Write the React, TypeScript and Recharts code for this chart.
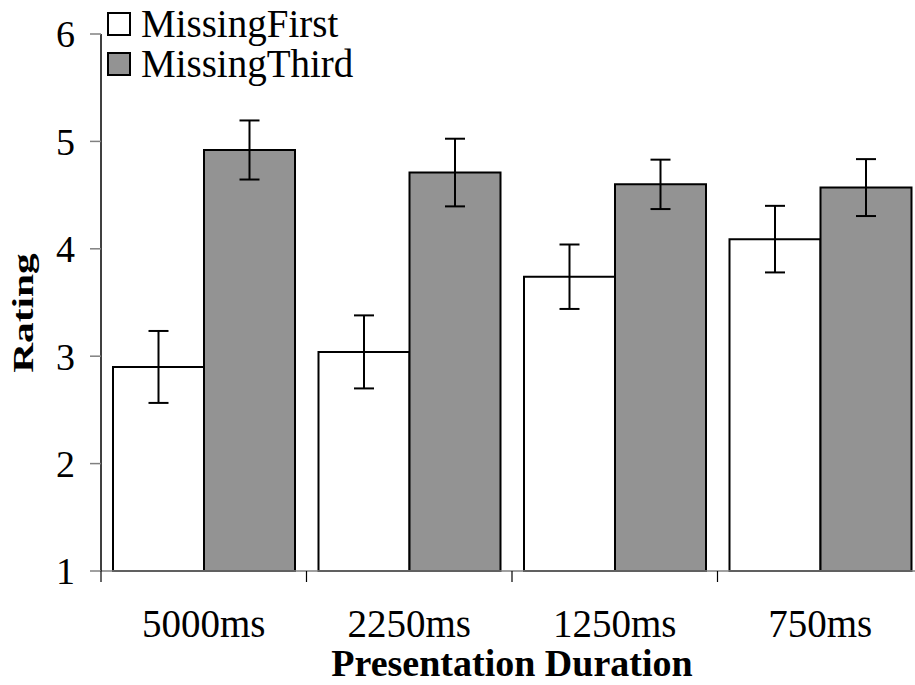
import React from 'react';
import { BarChart, Bar, XAxis, YAxis, ErrorBar, Legend } from 'recharts';

const categories = ['5000ms', '2250ms', '1250ms', '750ms'];
const missingFirst = [2.9, 3.04, 3.74, 4.09];
const missingFirstErr = [0.335, 0.34, 0.3, 0.31];
const missingThird = [4.92, 4.71, 4.6, 4.57];
const missingThirdErr = [0.275, 0.315, 0.23, 0.265];
const yTicks = [1, 2, 3, 4, 5, 6];

const data = categories.map((name, i) => ({
  name,
  first: missingFirst[i],
  firstErr: missingFirstErr[i],
  third: missingThird[i],
  thirdErr: missingThirdErr[i],
}));

const FONT = "'Liberation Serif', 'Times New Roman', Times, serif";
const GREY = '#939393';
const CHART_W = 935;
const PLOT_LEFT = 101;
const PLOT_RIGHT = 923;
const BAND = (PLOT_RIGHT - PLOT_LEFT) / categories.length;

// category label + a small tick at the left edge of each category
const CategoryTick = (props: any) => {
  const { x, y, payload } = props;
  const edge = x - BAND / 2;
  return (
    <g>
      <line x1={edge} x2={edge} y1={y} y2={y + 11} stroke="#000" strokeWidth={1.2} />
      <text x={x} y={y + 66} textAnchor="middle" fill="#000" fontSize={39} style={{ fontFamily: FONT }}>
        {payload.value}
      </text>
    </g>
  );
};

const renderLegend = () => {
  const items = [
    { label: 'MissingFirst', fill: '#fff' },
    { label: 'MissingThird', fill: GREY },
  ];
  return (
    <div style={{ fontFamily: FONT }}>
      {items.map((it) => (
        <div key={it.label} style={{ display: 'flex', alignItems: 'center', height: 40 }}>
          <span
            style={{
              display: 'inline-block',
              width: 20,
              height: 20,
              border: '2px solid #000',
              background: it.fill,
              marginRight: 10,
            }}
          />
          <span style={{ fontSize: 39, lineHeight: '40px', color: '#000', whiteSpace: 'nowrap' }}>
            {it.label}
          </span>
        </div>
      ))}
    </div>
  );
};

export default function App() {
  return (
    <div
      style={{
        position: 'absolute',
        left: 0,
        top: 0,
        width: 915,
        height: 685,
        overflow: 'hidden',
        background: '#fff',
        fontFamily: FONT,
      }}
    >
      <BarChart
        width={CHART_W}
        height={685}
        data={data}
        margin={{ top: 34, right: CHART_W - PLOT_RIGHT, left: 0, bottom: 0 }}
        barGap={0}
        barSize={91}
        style={{ fontFamily: FONT }}
      >
        <XAxis
          dataKey="name"
          height={114}
          interval={0}
          axisLine={{ stroke: '#808080', strokeWidth: 1.5 }}
          tickLine={false}
          tickSize={0}
          tickMargin={0}
          tick={<CategoryTick />}
          label={{
            content: () => (
              <text
                x={(PLOT_LEFT + PLOT_RIGHT) / 2}
                y={676}
                textAnchor="middle"
                fontSize={38}
                fontWeight="bold"
                fill="#000"
                style={{ fontFamily: FONT }}
              >
                Presentation Duration
              </text>
            ),
          }}
        />
        <YAxis
          width={PLOT_LEFT}
          domain={[1, 6]}
          ticks={yTicks}
          interval={0}
          axisLine={{ stroke: '#000', strokeWidth: 1.5 }}
          tickLine={{ stroke: '#808080', strokeWidth: 1.5 }}
          tickSize={11}
          tickMargin={15}
          tick={{ fill: '#000', fontSize: 38, style: { fontFamily: FONT } }}
          label={{
            content: () => (
              <text
                transform="translate(33,313) rotate(-90) scale(1.38,1)"
                textAnchor="middle"
                fontSize={30}
                fontWeight="bold"
                fill="#000"
                style={{ fontFamily: FONT }}
              >
                Rating
              </text>
            ),
          }}
        />
        <Legend
          verticalAlign="middle"
          align="center"
          wrapperStyle={{ top: 4, left: 107, width: 'auto' }}
          content={renderLegend}
        />
        <Bar dataKey="first" name="MissingFirst" fill="#fff" stroke="#000" strokeWidth={2} isAnimationActive={false}>
          <ErrorBar dataKey="firstErr" direction="y" width={10} stroke="#000" strokeWidth={2} />
        </Bar>
        <Bar dataKey="third" name="MissingThird" fill={GREY} stroke="#000" strokeWidth={2} isAnimationActive={false}>
          <ErrorBar dataKey="thirdErr" direction="y" width={10} stroke="#000" strokeWidth={2} />
        </Bar>
      </BarChart>
    </div>
  );
}
